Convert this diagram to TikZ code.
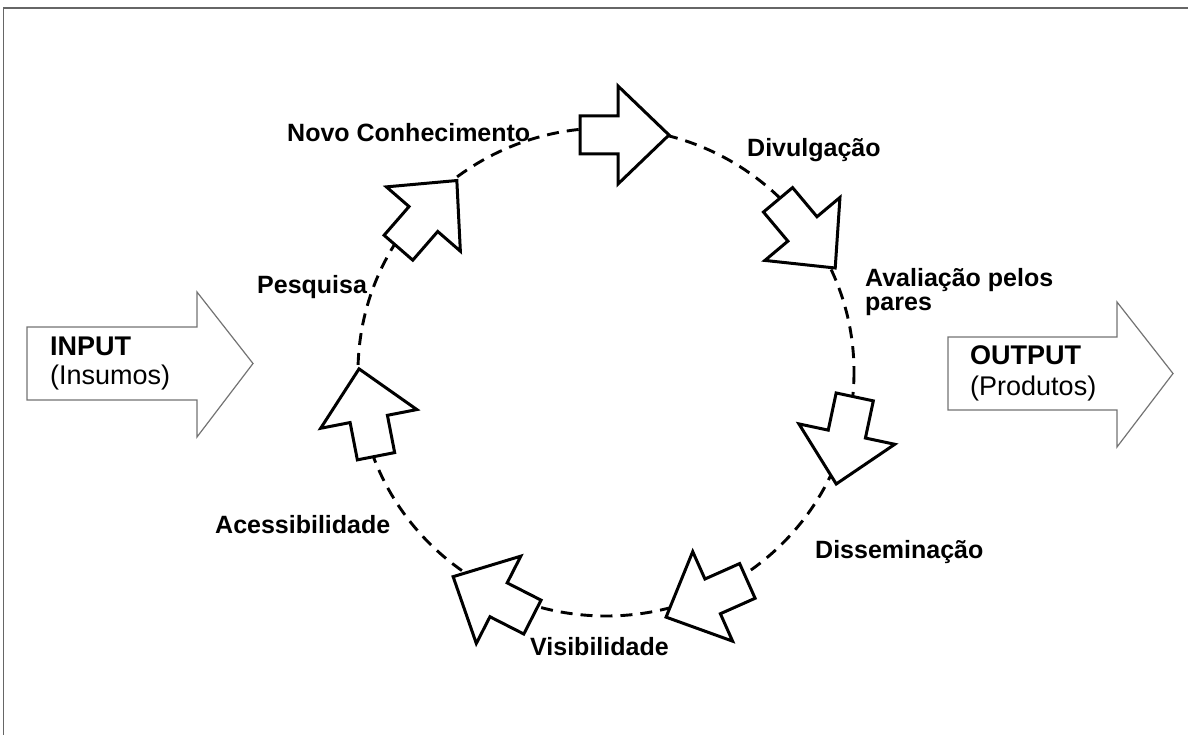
\documentclass[tikz,border=0pt]{standalone}
\usepackage{fontspec}
\setmainfont{Liberation Sans}
\tikzset{
  lbl/.style={font=\fontsize{25}{27}\selectfont\bfseries, inner sep=0pt, anchor=base west},
  iotitle/.style={font=\fontsize{27}{29}\selectfont\bfseries, inner sep=0pt, anchor=base west},
  iosub/.style={font=\fontsize{27}{29}\selectfont, inner sep=0pt, anchor=base west},
  io/.style={draw=black!55, line width=1.2pt, fill=white, line join=miter},
  cyc/.style={draw=black, line width=3pt, fill=white, line join=miter},
  ring/.style={draw=black, line width=2.9pt, dash pattern=on 12pt off 8pt},
  frame/.style={draw=black!60, line width=1.6pt},
}
\newcommand\blockarrow[3]{%
  \draw[cyc, shift={(#1,#2)}, rotate=#3]
    (-42,19) -- (-4,19) -- (-4,49) -- (47,0) -- (-4,-49) -- (-4,-19) -- (-42,-19) -- cycle;}
\begin{document}
\begin{tikzpicture}[x=1pt,y=-1pt]
  \useasboundingbox (0,0) rectangle (1188,735);
  % frame
  \draw[frame] (3.5,735) -- (3.5,8) -- (1188,8);
  % dashed cycle
  \coordinate (c) at (606,372);
  \draw[ring] (c) ellipse [x radius=248, y radius=244];
  % cycle arrows
  \blockarrow{622}{135}{0}
  \blockarrow{805}{232}{-50}
  \blockarrow{846}{438}{-102}
  \blockarrow{709}{598}{-156}
  \blockarrow{495}{598}{153}
  \blockarrow{368}{415}{101}
  \blockarrow{426}{216}{49}
  % labels
  \node[lbl] (novo) at (287,142) {Novo Conhecimento};
  \node[lbl] (divulg) at (747,157) {Divulgação};
  \node[lbl] (aval1) at (865,287) {Avaliação pelos};
  \node[lbl] (aval2) at (865,310) {pares};
  \node[lbl] (pesq) at (257,293) {Pesquisa};
  \node[lbl] (acess) at (215,533) {Acessibilidade};
  \node[lbl] (dissem) at (815,558) {Disseminação};
  \node[lbl] (visib) at (530,655) {Visibilidade};
  % input / output arrows
  \draw[io] (27,327) -- (197,327) -- (197,292) -- (253,363.5) -- (197,437) -- (197,400) -- (27,400) -- cycle;
  \draw[io] (948,337) -- (1117,337) -- (1117,302) -- (1173,373.5) -- (1117,447) -- (1117,410) -- (948,410) -- cycle;
  \node[iotitle] (input) at (50,355) {INPUT};
  \node[iosub] (insumos) at (50,384) {(Insumos)};
  \node[iotitle] (output) at (970,364) {OUTPUT};
  \node[iosub] (produtos) at (970,395) {(Produtos)};
\end{tikzpicture}
\end{document}
